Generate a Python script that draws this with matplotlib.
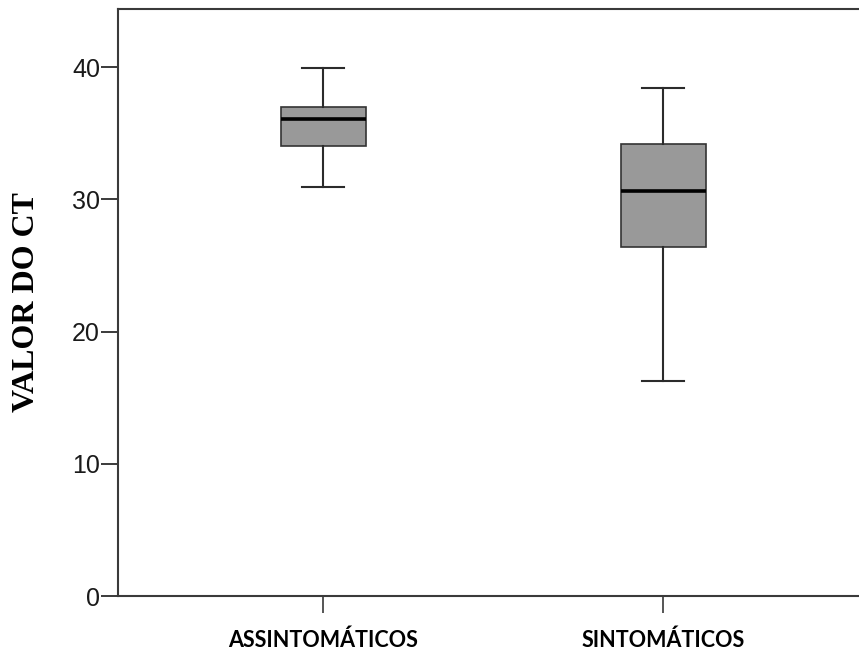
import matplotlib
matplotlib.use("Agg")
import matplotlib.pyplot as plt

# grupos e estatisticas (valor do CT)
groups = ["ASSINTOMÁTICOS", "SINTOMÁTICOS"]
whisker_low = [30.9, 16.3]
q1 = [34.0, 26.4]
median = [36.05, 30.6]
q3 = [37.0, 34.2]
whisker_high = [39.9, 38.4]

stats = []
for i, name in enumerate(groups):
    stats.append({
        "label": name,
        "whislo": whisker_low[i],
        "q1": q1[i],
        "med": median[i],
        "q3": q3[i],
        "whishi": whisker_high[i],
        "fliers": [],
    })

W, H = 859, 652
fig = plt.figure(figsize=(W / 100, H / 100), dpi=100)
ax = fig.add_axes([118 / W, 1 - 596 / H, (W - 118) / W, (596 - 9) / H])

line_col = "#2b2b2b"
ax.bxp(stats, positions=[1, 2], widths=0.25, capwidths=0.126,
       patch_artist=True, showfliers=False,
       boxprops=dict(facecolor="#999999", edgecolor="#333333", linewidth=1.2),
       medianprops=dict(color="black", linewidth=2.6),
       whiskerprops=dict(color=line_col, linewidth=1.5),
       capprops=dict(color=line_col, linewidth=1.5))

ax.set_xlim(1 - 205 / 340, 2 + 196 / 340)
ax.set_ylim(0, 44.4)
ax.set_yticks([0, 10, 20, 30, 40])

for side in ["left", "bottom", "top"]:
    ax.spines[side].set_color("#3a3a3a")
    ax.spines[side].set_linewidth(1.5)
ax.spines["right"].set_visible(False)

ax.tick_params(axis="y", length=12, width=1.4, color="#3a3a3a", pad=1,
               labelsize=18, labelcolor="#1a1a1a")
ax.tick_params(axis="x", length=12, width=1.4, color="#555555", pad=12)
for lab in ax.get_yticklabels():
    lab.set_fontfamily("Liberation Sans")
ax.set_xticks([1, 2])
ax.set_xticklabels(groups, fontfamily="Lato", fontweight="bold", fontsize=15.5)

ax.set_ylabel("VALOR DO CT", fontfamily="Liberation Serif", fontweight="bold",
              fontsize=23, labelpad=22)

fig.savefig("out.png", dpi=100)
